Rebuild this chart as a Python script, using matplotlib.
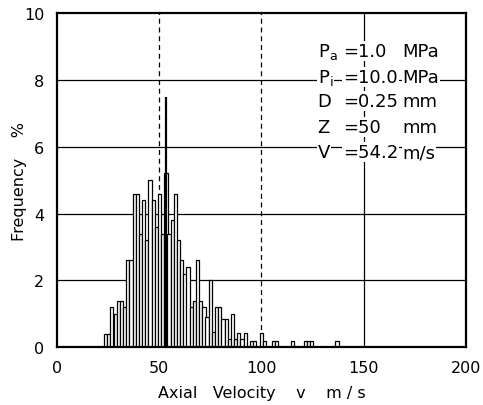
import matplotlib
matplotlib.use("Agg")
import matplotlib.pyplot as plt

# velocity bin left edges (m/s) and frequency (%)
velocity = [23.1, 24.7, 26.2, 27.8, 29.3, 30.9, 32.4, 34.0, 35.5, 37.1,
            38.6, 40.2, 41.7, 43.3, 44.8, 46.4, 47.9, 49.5, 51.0, 52.6,
            54.1, 55.7, 57.2, 58.8, 60.3, 61.9, 63.4, 65.0, 66.5, 68.1,
            69.6, 71.2, 72.7, 74.3, 75.8, 77.4, 78.9, 80.5, 82.0, 83.6,
            85.1, 86.7, 88.2, 89.8, 91.3, 94.4, 96.0, 99.1, 100.6, 105.2,
            106.8, 114.5, 120.7, 122.3, 123.8, 136.2]
frequency = [0.4, 0.4, 1.2, 1.0, 1.4, 1.4, 1.2, 2.6, 2.6, 4.6,
             4.6, 3.4, 4.4, 3.2, 5.0, 4.4, 3.6, 4.6, 3.4, 5.2,
             3.4, 3.8, 4.6, 3.2, 2.6, 2.2, 2.4, 1.2, 1.4, 2.6,
             1.4, 1.2, 0.9, 2.0, 0.45, 1.2, 1.2, 0.84, 0.84, 0.24,
             1.0, 0.24, 0.42, 0.24, 0.42, 0.2, 0.2, 0.42, 0.2, 0.2,
             0.2, 0.2, 0.2, 0.2, 0.2, 0.2]
bin_width = 1.55
spike_velocity = 53.6
spike_freq = 7.5

x_ticks = [0, 50, 100, 150, 200]
y_ticks = [0, 2, 4, 6, 8, 10]

info_labels = [r"P$_\mathregular{a}$", r"P$_\mathregular{i}$", "D", "Z", "V"]
info_values = ["=1.0", "=10.0", "=0.25", "=50", "=54.2"]
info_units = ["MPa", "MPa", "mm", "mm", "m/s"]

plt.rcParams['font.family'] = ['DejaVu Sans']
fig = plt.figure(figsize=(4.83, 4.06), dpi=100)
ax = fig.add_axes([0.1174, 0.1421, 0.8474, 0.8234])

ax.set_xlim(0, 200)
ax.set_ylim(0, 10)

# grid
for yv in y_ticks[1:-1]:
    ax.axhline(yv, color='black', lw=0.9, zorder=1)
ax.axvline(50, color='black', lw=0.9, ls=(0, (4, 3)), zorder=1)
ax.axvline(100, color='black', lw=0.9, ls=(0, (4, 3)), zorder=1)
ax.axvline(150, color='black', lw=0.9, zorder=1)

ax.bar(velocity, frequency, width=bin_width, align='edge',
       facecolor='white', edgecolor='black', linewidth=0.9, zorder=2)
ax.vlines(spike_velocity, 0, spike_freq, color='black', lw=1.6, zorder=3)

ax.set_xticks(x_ticks)
ax.set_yticks(y_ticks)
ax.tick_params(length=0, labelsize=11.5, pad=9)
for s in ax.spines.values():
    s.set_linewidth(1.6)

ax.set_xlabel("Axial   Velocity    v    m / s", fontsize=11.5)
ax.set_ylabel("Frequency    %", fontsize=11.5)
ax.xaxis.set_label_coords(0.5, -0.112)
ax.yaxis.set_label_coords(-0.072, 0.5)

ys = [8.71, 7.93, 7.22, 6.44, 5.69]
bb = dict(facecolor='white', edgecolor='none', pad=0.5)
for lab, val, unit, yy in zip(info_labels, info_values, info_units, ys):
    ax.text(127.5, yy, lab, fontsize=13, va='baseline', ha='left', zorder=4, bbox=bb)
    ax.text(140.0, yy, val, fontsize=13, va='baseline', ha='left', zorder=4, bbox=bb)
    ax.text(169.0, yy, unit, fontsize=13, va='baseline', ha='left', zorder=4, bbox=bb)

fig.savefig("out.png", dpi=100)
